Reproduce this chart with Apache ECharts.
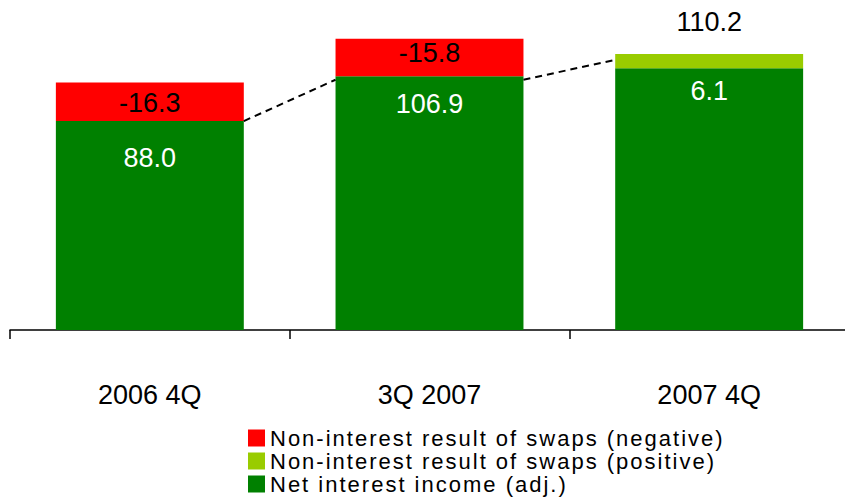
<!DOCTYPE html>
<html>
<head>
<meta charset="utf-8">
<script src="https://cdn.jsdelivr.net/npm/echarts@6/dist/echarts.min.js"></script>
<style>
  html, body { margin: 0; padding: 0; background: #fff; }
  #chart { width: 845px; height: 497px; }
</style>
</head>
<body>
<div id="chart"></div>
<script>
// Quarterly net interest income and the non-interest result of swaps
const categories = ['2006 4Q', '3Q 2007', '2007 4Q'];
const netInterest = [88.0, 106.9, 110.2];
const swapNegative = [-16.3, -15.8, null];
const swapPositive = [null, null, 6.1];
// dashed connector levels between neighbouring bars (start at bar i, end at bar i+1)
const connectorFrom = [88.0, 105.4];
const connectorTo = [105.4, 113.8];
const legendNames = [
  'Non-interest result of swaps (negative)',
  'Non-interest result of swaps (positive)',
  'Net interest income (adj.)'
];

const FONT = '"Liberation Sans", Arial, sans-serif';
const COLORS = { negative: '#ff0000', positive: '#99cc00', net: '#008000' };
const BAR_RATIO = 0.672;

// label placement for the net-interest segments
const netLabelStyle = [
  { position: 'insideTop', distance: 23, color: '#fff' },
  { position: 'insideTop', distance: 14, color: '#fff' },
  { position: 'top', distance: 33, color: '#000' }
];
// vertical nudges for the swap labels
const negLabelShift = [1, -4, 0];

const chart = echarts.init(document.getElementById('chart'), null, { renderer: 'svg' });

const labelBase = { show: true, fontFamily: FONT, fontSize: 27 };

chart.setOption({
  animation: false,
  backgroundColor: '#fff',
  grid: { left: 10, top: 0, width: 839, height: 330, containLabel: false, outerBoundsMode: 'none' },
  legend: {
    data: legendNames,
    orient: 'vertical',
    left: 248,
    top: 427,
    padding: 0,
    itemWidth: 17,
    itemHeight: 17,
    itemGap: 1,
    icon: 'rect',
    textStyle: { fontFamily: FONT, fontSize: 22, lineHeight: 21, color: '#000' }
  },
  xAxis: {
    type: 'category',
    data: categories,
    axisLine: { show: true, lineStyle: { color: '#000', width: 1.5 } },
    axisTick: { show: true, interval: 0, alignWithLabel: false, length: 9, lineStyle: { color: '#000', width: 1.5 } },
    axisLabel: { color: '#000', fontFamily: FONT, fontSize: 27, margin: 51 },
    splitLine: { show: false }
  },
  yAxis: { type: 'value', min: 0, max: 139, show: false, splitLine: { show: false } },
  series: [
    {
      name: legendNames[2],
      type: 'bar',
      stack: 'total',
      barWidth: (BAR_RATIO * 100) + '%',
      itemStyle: { color: COLORS.net },
      label: Object.assign({}, labelBase, { formatter: p => netInterest[p.dataIndex].toFixed(1) }),
      data: netInterest.map((v, i) => ({ value: v, label: netLabelStyle[i] }))
    },
    {
      name: legendNames[0],
      type: 'bar',
      stack: 'total',
      itemStyle: { color: COLORS.negative },
      label: Object.assign({}, labelBase, {
        position: 'inside', color: '#000',
        formatter: p => swapNegative[p.dataIndex].toFixed(1)
      }),
      data: swapNegative.map((v, i) => (v == null ? '-' : {
        value: Math.abs(v),
        label: { offset: [0, negLabelShift[i]] }
      }))
    },
    {
      name: legendNames[1],
      type: 'bar',
      stack: 'total',
      itemStyle: { color: COLORS.positive },
      label: Object.assign({}, labelBase, {
        position: 'bottom', distance: 9, color: '#fff',
        formatter: p => swapPositive[p.dataIndex].toFixed(1)
      }),
      data: swapPositive.map(v => (v == null ? '-' : v))
    },
    {
      name: 'connectors',
      type: 'custom',
      silent: true,
      z: 5,
      clip: false,
      encode: { x: 0, y: [1, 2] },
      data: connectorFrom.map((v, i) => [i, v, connectorTo[i]]),
      renderItem: function (params, api) {
        const i = api.value(0);
        const band = api.size([1, 0])[0];
        const half = band * BAR_RATIO / 2;
        const a = api.coord([i, api.value(1)]);
        const b = api.coord([i + 1, api.value(2)]);
        return {
          type: 'line',
          shape: { x1: a[0] + half, y1: a[1], x2: b[0] - half, y2: b[1] },
          style: { stroke: '#000', lineWidth: 2, lineDash: [7, 5], fill: null }
        };
      }
    }
  ]
});

// legend entries are set with a little extra tracking
function spaceLegendText() {
  document.querySelectorAll('#chart svg text').forEach(function (t) {
    if (legendNames.indexOf(t.textContent) >= 0) {
      t.style.letterSpacing = '2px';
    }
  });
}
spaceLegendText();
chart.on('finished', spaceLegendText);
</script>
</body>
</html>
